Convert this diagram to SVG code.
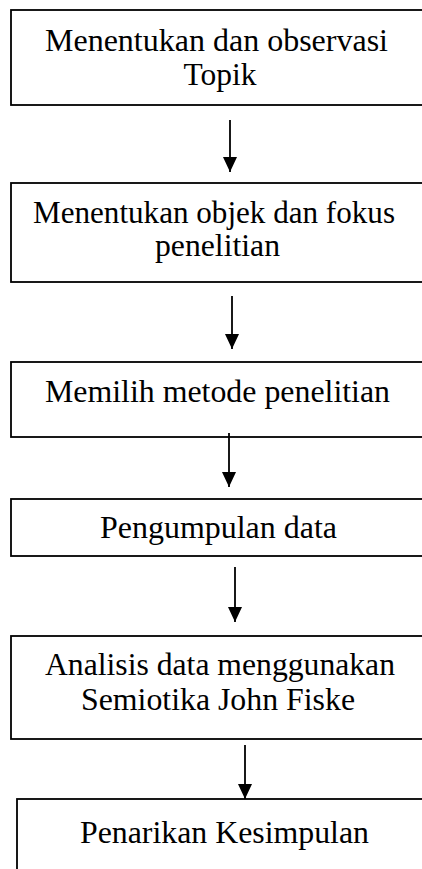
<svg xmlns="http://www.w3.org/2000/svg" width="422" height="869" viewBox="0 0 422 869">
<style>
.box{fill:#fff;stroke:#000;stroke-width:1.8}
.t{font-family:"Liberation Serif","Times New Roman",serif;font-size:31px;fill:#000;text-anchor:middle}
.c{stroke:#000;stroke-width:1.8;fill:none}
</style>
<defs>
<marker id="ah" markerUnits="userSpaceOnUse" markerWidth="16" markerHeight="16" refX="15" refY="7" orient="auto">
<path d="M0,0 L15,7 L0,14 Z" fill="#000"/>
</marker>
</defs>
<rect width="422" height="869" fill="#fff"/>
<g id="n1">
<rect class="box" x="11" y="10" width="430" height="95"/>
<text class="t" x="216.5" y="51" textLength="343" lengthAdjust="spacingAndGlyphs">Menentukan dan observasi</text>
<text class="t" x="220" y="85" textLength="73" lengthAdjust="spacingAndGlyphs">Topik</text>
</g>
<g id="n2">
<rect class="box" x="11" y="183" width="430" height="99"/>
<text class="t" x="214" y="223" textLength="362" lengthAdjust="spacingAndGlyphs">Menentukan objek dan fokus</text>
<text class="t" x="217.5" y="256" textLength="125" lengthAdjust="spacingAndGlyphs">penelitian</text>
</g>
<g id="n3">
<rect class="box" x="11" y="362" width="430" height="75"/>
<text class="t" x="217.5" y="402" textLength="345" lengthAdjust="spacingAndGlyphs">Memilih metode penelitian</text>
</g>
<g id="n4">
<rect class="box" x="11" y="499" width="430" height="57"/>
<text class="t" x="218.5" y="538" textLength="237" lengthAdjust="spacingAndGlyphs">Pengumpulan data</text>
</g>
<g id="n5">
<rect class="box" x="11" y="636" width="430" height="103"/>
<text class="t" x="220" y="675" textLength="350" lengthAdjust="spacingAndGlyphs">Analisis data menggunakan</text>
<text class="t" x="218" y="710" textLength="274" lengthAdjust="spacingAndGlyphs">Semiotika John Fiske</text>
</g>
<g id="n6">
<rect class="box" x="17" y="799" width="430" height="90"/>
<text class="t" x="224.5" y="843" textLength="289" lengthAdjust="spacingAndGlyphs">Penarikan Kesimpulan</text>
</g>
<g id="connectors">
<line class="c" x1="230" y1="120" x2="230" y2="172" marker-end="url(#ah)"/>
<line class="c" x1="232" y1="296" x2="232" y2="349" marker-end="url(#ah)"/>
<line class="c" x1="229" y1="433" x2="229" y2="487" marker-end="url(#ah)"/>
<line class="c" x1="235" y1="567" x2="235" y2="622" marker-end="url(#ah)"/>
<line class="c" x1="245" y1="745" x2="245" y2="799" marker-end="url(#ah)"/>
</g>
</svg>
